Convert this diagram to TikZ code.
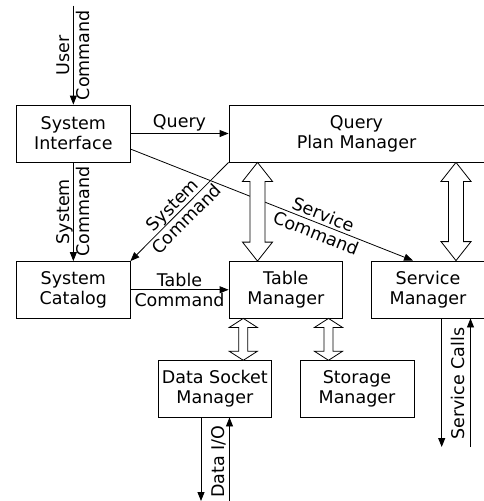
\documentclass[tikz,border=0pt]{standalone}
\usepackage{fontspec}
\setmainfont{DejaVu Sans}
\usetikzlibrary{arrows.meta,calc}
\newcommand\dblarr[5]{%
  \draw[dbl] let \p1=(#1), \p2=(#2) in
    (\x1,\y1) -- ({\x1+#3pt},{\y1-#5pt}) -- ({\x1+#4pt},{\y1-#5pt})
    -- ({\x1+#4pt},{\y2+#5pt}) -- ({\x1+#3pt},{\y2+#5pt}) -- (\x1,\y2)
    -- ({\x1-#3pt},{\y2+#5pt}) -- ({\x1-#4pt},{\y2+#5pt})
    -- ({\x1-#4pt},{\y1-#5pt}) -- ({\x1-#3pt},{\y1-#5pt}) -- cycle;}
\begin{document}
\begin{tikzpicture}[x=1pt,y=-1pt,
  font=\fontsize{17.5}{19.8}\selectfont,
  box/.style={draw, line width=0.8pt, inner sep=0pt, align=center},
  conn/.style={line width=0.8pt, -{Triangle[length=9pt,width=7pt]}},
  lbl/.style={inner sep=0pt, align=center},
  dbl/.style={line width=0.8pt, fill=white, line join=miter}]
\useasboundingbox (0,0) rectangle (483,501);
% boxes
\node[box, minimum width=113.3pt, minimum height=57pt] (si) at (73.35,133.5) {System\\Interface};
\node[box, minimum width=255pt, minimum height=57pt] (qpm) at (356.5,133.5) {Query\\Plan Manager};
\node[box, minimum width=113.3pt, minimum height=56.5pt] (cat) at (73.35,289.75) {System\\Catalog};
\node[box, minimum width=113.7pt, minimum height=56.5pt] (tm) at (285.85,289.75) {Table\\Manager};
\node[box, minimum width=114pt, minimum height=57pt] (sm) at (428,289.5) {Service\\Manager};
\node[box, minimum width=113.7pt, minimum height=56.3pt] (dsm) at (214.85,388.85) {Data Socket\\Manager};
\node[box, minimum width=114pt, minimum height=56.3pt] (stor) at (357,388.85) {Storage\\Manager};
% free ends
\coordinate (ucmd) at (73.35,5.7);
\coordinate (dioD) at (201,501);
\coordinate (dioU) at (229.5,501);
\coordinate (scD) at (441.7,447);
\coordinate (scU) at (470.5,447);
\coordinate (sct) at (413,0);
\coordinate (dA) at (257.5,0);
\coordinate (dB) at (456,0);
\coordinate (dC) at (243.3,0);
\coordinate (dD) at (328.5,0);
% connectors
\draw[conn] (ucmd) -- node[lbl, rotate=90] {User\\Command} (si.north);
\draw[conn] (si.east) -- node[lbl, above=1.5pt] {Query} (qpm.west);
\draw[conn] (si.south) -- node[lbl, rotate=90] {System\\Command} (cat.north);
\draw[conn] (cat.east) -- node[lbl] {Table\\Command} (tm.west);
\draw[conn] (qpm.south west) -- node[lbl, sloped] {System\\Command} (cat.north east);
\draw[conn] ($(si.east)+(0,15.5)$) -- node[lbl, sloped, pos=0.67] {Service\\Command} (sm.north -| sct);
\draw[conn] (dsm.south -| dioD) -- (dioD);
\draw[conn] (dioU) -- (dsm.south -| dioU);
\node[lbl, rotate=90] (diol) at ($($(dsm.south -| dioD)!0.5!(dioU)$)+(3.5,2.5)$) {Data I/O};
\draw[conn] (sm.south -| scD) -- (scD);
\draw[conn] (scU) -- (sm.south -| scU);
\node[lbl, rotate=90] (scl) at ($($(sm.south -| scD)!0.5!(scU)$)+(2.3,0.8)$) {Service Calls};
% double arrows
\dblarr{qpm.south -| dA}{tm.north -| dA}{15}{7.5}{19}
\dblarr{qpm.south -| dB}{sm.north -| dB}{15}{7.5}{19}
\dblarr{tm.south -| dC}{dsm.north -| dC}{14}{4.5}{9}
\dblarr{tm.south -| dD}{stor.north -| dD}{14}{4.5}{9}
\end{tikzpicture}
\end{document}
